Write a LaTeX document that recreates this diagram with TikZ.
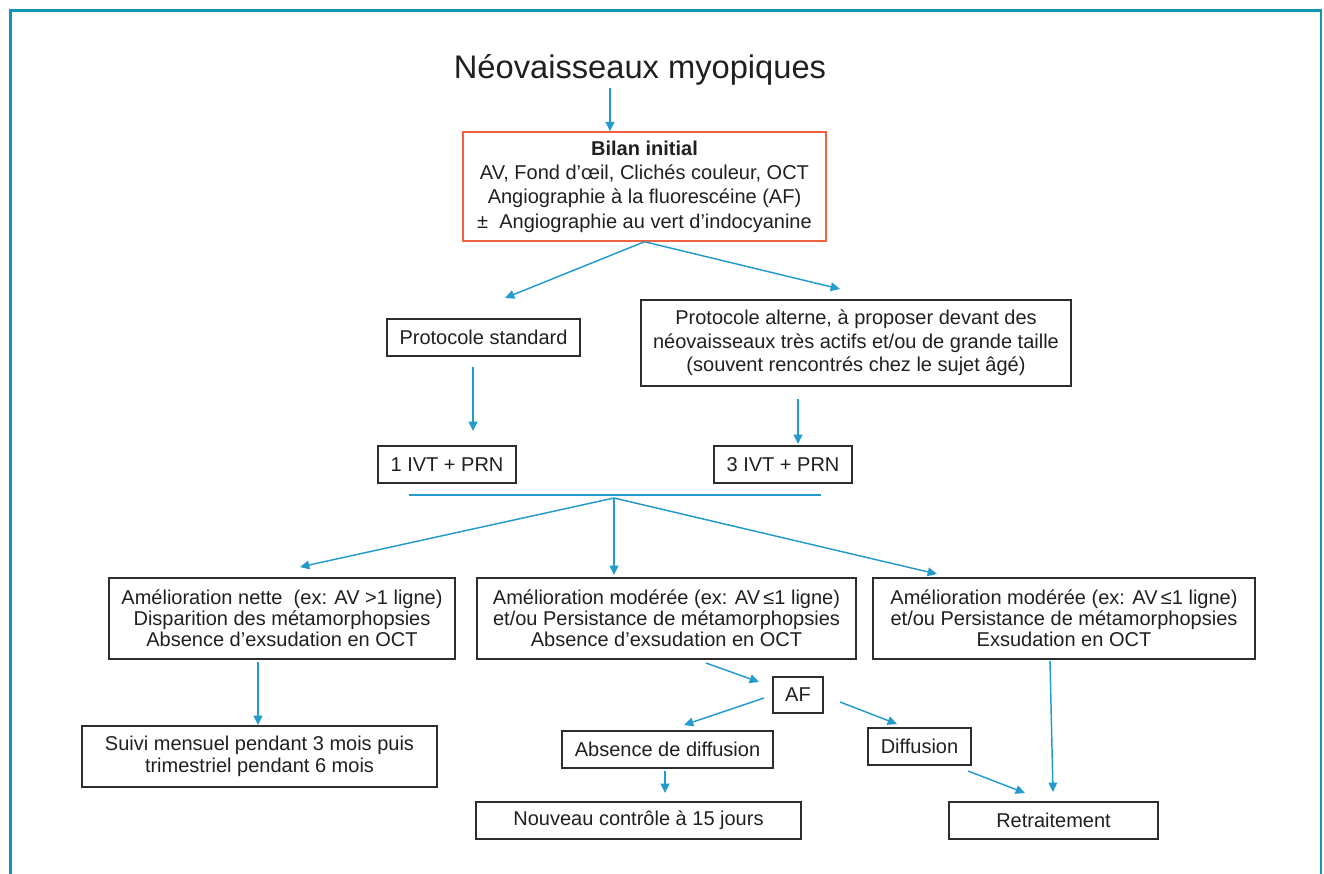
\documentclass[tikz,border=0pt]{standalone}
\usepackage{fontspec}
\setmainfont{Liberation Sans}
\usetikzlibrary{arrows.meta}
\definecolor{arrowblue}{RGB}{35,155,205}
\definecolor{framecol}{RGB}{14,150,178}
\definecolor{boxcol}{RGB}{45,45,45}
\definecolor{txtcol}{RGB}{35,31,32}
\definecolor{orangecol}{RGB}{238,98,64}
\def\p#1{#1*0.75pt}
\tikzset{
  flowbox/.style={draw=boxcol, line width=1pt, inner sep=0pt, align=center, text=txtcol,
    font=\fontsize{15}{16.5}\selectfont},
  flowarrow/.style={draw=arrowblue, line width=1.1pt, -{Triangle[length=7pt,width=6.5pt]}},
}
\begin{document}
\begin{tikzpicture}[x=0.75pt,y={(0pt,-0.75pt)}]
\useasboundingbox (0,0) rectangle (1324,874);
\fill[white] (0,0) rectangle (1324,874);
% frame
\draw[framecol, line width=2.2pt] (10.5,874) -- (10.5,10.5) -- (1321,10.5) -- (1321,874);

% title
\node[anchor=base, text=txtcol, font=\fontsize{24.5}{29}\selectfont, inner sep=0pt] (title) at (640,79) {Néovaisseaux myopiques};

% boxes
\node[flowbox, draw=orangecol, line width=1.1pt, minimum width=\p{363}, minimum height=\p{109},
  font=\fontsize{15}{18.3}\selectfont] (bilan) at (644.5,186.5)
  {\textbf{Bilan initial}\\AV, Fond d’œil, Clichés couleur, OCT\\Angiographie à la fluorescéine (AF)\\±\ \ Angiographie au vert d’indocyanine};
\node[flowbox, minimum width=\p{193}, minimum height=\p{37}] (ps) at (483.5,337.5) {Protocole standard};
\node[flowbox, minimum width=\p{430}, minimum height=\p{86}, font=\fontsize{15}{17.5}\selectfont] (pa) at (856,343)
  {Protocole alterne, à proposer devant des\\néovaisseaux très actifs et/ou de grande taille\\(souvent rencontrés chez le sujet âgé)};
\node[flowbox, minimum width=\p{138}, minimum height=\p{37}] (ivta) at (447,464.5) {1 IVT + PRN};
\node[flowbox, minimum width=\p{138}, minimum height=\p{37}] (ivtb) at (783,464.5) {3 IVT + PRN};

\node[flowbox, minimum width=\p{346}, minimum height=\p{81}, font=\fontsize{15}{15.75}\selectfont] (a1) at (282,618.5)
  {Amélioration nette\ \ (ex: AV >1 ligne)\\Disparition des métamorphopsies\\Absence d’exsudation en OCT};
\node[flowbox, minimum width=\p{379}, minimum height=\p{81}, font=\fontsize{15}{15.75}\selectfont] (a2) at (666.5,618.5)
  {Amélioration modérée (ex: AV\,≤1 ligne)\\et/ou Persistance de métamorphopsies\\Absence d’exsudation en OCT};
\node[flowbox, minimum width=\p{382}, minimum height=\p{81}, font=\fontsize{15}{15.75}\selectfont] (a3) at (1064,618.5)
  {Amélioration modérée (ex: AV\,≤1 ligne)\\et/ou Persistance de métamorphopsies\\Exsudation en OCT};

\node[flowbox, minimum width=\p{355}, minimum height=\p{61}] (suivi) at (259.5,756.5)
  {Suivi mensuel pendant 3 mois puis\\trimestriel pendant 6 mois};
\node[flowbox, minimum width=\p{50}, minimum height=\p{36}] (af) at (798,695) {AF};
\node[flowbox, minimum width=\p{211}, minimum height=\p{37}] (abs) at (667.5,749.5) {Absence de diffusion};
\node[flowbox, minimum width=\p{103}, minimum height=\p{37}] (diff) at (919.5,746.5) {Diffusion};
\node[flowbox, minimum width=\p{325}, minimum height=\p{37}] (nouv) at (638.5,820.5) {Nouveau contrôle à 15 jours};
\node[flowbox, minimum width=\p{209}, minimum height=\p{37}] (retr) at (1053.5,820.5) {Retraitement};

% horizontal bar
\coordinate (hl) at (409,495);
\coordinate (hr) at (821,495);
\draw[arrowblue, line width=1.1pt] (hl) -- (hr);
\coordinate (j) at (614,498);

% connector end points
\coordinate (t1) at (610,88);
\coordinate (psin) at (505,298);
\coordinate (pain) at (840,289);
\coordinate (psout) at (473,367);
\coordinate (ivtain) at (473,431);
\coordinate (paout) at (798,399);
\coordinate (ivtbin) at (798,444);
\coordinate (a1in) at (300,567);
\coordinate (a2in) at (614,575);
\coordinate (a3in) at (937,574);
\coordinate (a1out) at (258,662);
\coordinate (suiviin) at (258,725);
\coordinate (a2out) at (706,663);
\coordinate (afin) at (759,682);
\coordinate (afl) at (764,698);
\coordinate (absin) at (684,725);
\coordinate (afr) at (840,702);
\coordinate (diffin) at (897,724);
\coordinate (absout) at (665,771);
\coordinate (nouvin) at (665,793);
\coordinate (diffout) at (968,771);
\coordinate (retrin) at (1025,793);
\coordinate (a3out) at (1050,661);
\coordinate (retrin2) at (1053,792);

% arrows
\draw[flowarrow] (t1) -- (t1 |- bilan.north);
\draw[flowarrow] (bilan.south) -- (psin);
\draw[flowarrow] (bilan.south) -- (pain);
\draw[flowarrow] (psout) -- (ivtain);
\draw[flowarrow] (paout) -- (ivtbin);
\draw[flowarrow] (j) -- (a1in);
\draw[flowarrow] (j) -- (a2in);
\draw[flowarrow] (j) -- (a3in);
\draw[flowarrow] (a1out) -- (suiviin);
\draw[flowarrow] (a2out) -- (afin);
\draw[flowarrow] (afl) -- (absin);
\draw[flowarrow] (afr) -- (diffin);
\draw[flowarrow] (absout) -- (nouvin);
\draw[flowarrow] (diffout) -- (retrin);
\draw[flowarrow] (a3out) -- (retrin2);
\end{tikzpicture}
\end{document}
